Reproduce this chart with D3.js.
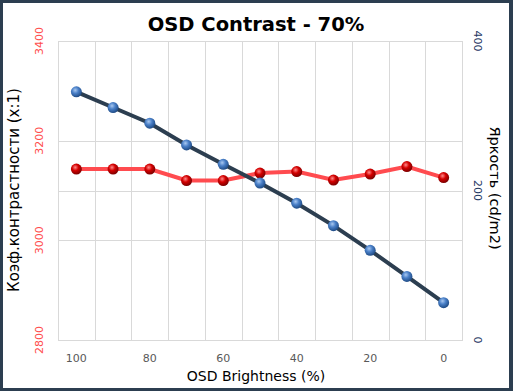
<!DOCTYPE html>
<html>
<head>
<meta charset="utf-8">
<script src="https://cdn.jsdelivr.net/npm/d3@7"></script>
<style>
  body { margin: 0; background: #2c3e50; }
  text { font-family: "DejaVu Sans", Verdana, sans-serif; }
</style>
</head>
<body>
<div id="chart"></div>
<script>
// data
var brightness = [100, 90, 80, 70, 60, 50, 40, 30, 20, 10, 0];
var contrast = [3143, 3143, 3143, 3120, 3120, 3135, 3138, 3121, 3133, 3148, 3126];
var luminance = [332, 311, 290, 261, 235, 210, 183, 153, 120, 85, 50];
var leftTicks = [2800, 3000, 3200, 3400];
var rightTicks = [0, 200, 400];
var xLabels = [100, 80, 60, 40, 20, 0];

var W = 513, H = 391;
var plot = {left: 58, right: 462, top: 41, bottom: 340};

var svg = d3.select("#chart").append("svg")
    .attr("width", W)
    .attr("height", H);

// frame
svg.append("rect").attr("width", W).attr("height", H).attr("fill", "#2c3e50");
svg.append("rect").attr("x", 3).attr("y", 3).attr("width", 506).attr("height", 385).attr("fill", "#fff");

var defs = svg.append("defs");
function ball(id, light, base, dark) {
    var g = defs.append("radialGradient").attr("id", id)
        .attr("cx", "40%").attr("cy", "35%").attr("r", "65%");
    g.append("stop").attr("offset", "0%").attr("stop-color", light);
    g.append("stop").attr("offset", "45%").attr("stop-color", base);
    g.append("stop").attr("offset", "100%").attr("stop-color", dark);
}
ball("redBall", "#ff8a8a", "#d40000", "#7a0000");
ball("blueBall", "#a9c8f0", "#4a80c8", "#1f4b85");

var x = d3.scaleBand().domain(brightness).range([plot.left, plot.right]);
var yL = d3.scaleLinear().domain([2800, 3400]).range([plot.bottom, plot.top]);
var yR = d3.scaleLinear().domain([0, 400]).range([plot.bottom, plot.top]);

// gridlines
var grid = svg.append("g").attr("stroke", "#d9d9d9").attr("stroke-width", 1);
brightness.forEach(function (d) {
    var gx = Math.round(x(d)) + 0.5;
    grid.append("line").attr("x1", gx).attr("x2", gx).attr("y1", plot.top).attr("y2", plot.bottom);
});
leftTicks.forEach(function (d) {
    var gy = Math.round(yL(d)) + 0.5;
    grid.append("line").attr("x1", plot.left).attr("x2", plot.right).attr("y1", gy).attr("y2", gy);
});
rightTicks.forEach(function (d) {
    var gy = Math.round(yR(d)) + 0.5;
    grid.append("line").attr("x1", plot.left).attr("x2", plot.right).attr("y1", gy).attr("y2", gy);
});
svg.append("rect")
    .attr("x", plot.left + 0.5).attr("y", plot.top + 0.5)
    .attr("width", plot.right - plot.left).attr("height", plot.bottom - plot.top)
    .attr("fill", "none").attr("stroke", "#d9d9d9");

// left axis ticks (rotated)
svg.selectAll(".lt")
    .data(leftTicks)
    .enter()
    .append("text")
    .attr("transform", function (d) { return "translate(43," + yL(d) + ") rotate(-90)"; })
    .attr("text-anchor", "middle")
    .attr("font-size", 11)
    .attr("fill", "#ff4d4d")
    .text(function (d) { return d; });

// right axis ticks (rotated)
svg.selectAll(".rt")
    .data(rightTicks)
    .enter()
    .append("text")
    .attr("transform", function (d) { return "translate(474," + yR(d) + ") rotate(90)"; })
    .attr("text-anchor", "middle")
    .attr("font-size", 11)
    .attr("fill", "#1f3864")
    .text(function (d) { return d; });

// x ticks
svg.selectAll(".xt")
    .data(xLabels)
    .enter()
    .append("text")
    .attr("x", function (d) { return x(d) + x.bandwidth() / 2; })
    .attr("y", 362)
    .attr("text-anchor", "middle")
    .attr("font-size", 11)
    .attr("fill", "#595959")
    .text(function (d) { return d; });

// titles
svg.append("text").attr("x", 256).attr("y", 31)
    .attr("text-anchor", "middle").attr("font-size", 19.5).attr("font-weight", "bold")
    .text("OSD Contrast - 70%");
svg.append("text").attr("x", 256).attr("y", 381)
    .attr("text-anchor", "middle").attr("font-size", 14)
    .text("OSD Brightness (%)");
svg.append("text").attr("transform", "translate(19,190) rotate(-90)")
    .attr("text-anchor", "middle").attr("font-size", 15)
    .text("Коэф.контрастности (x:1)");
svg.append("text").attr("transform", "translate(490,188) rotate(90)")
    .attr("text-anchor", "middle").attr("font-size", 14.5)
    .text("Яркость (cd/m2)");

function cx(i) { return x(brightness[i]) + x.bandwidth() / 2; }

// contrast series
svg.append("path")
    .datum(contrast)
    .attr("fill", "none")
    .attr("stroke", "#ff4b4f")
    .attr("stroke-width", 4)
    .attr("d", d3.line().x(function (d, i) { return cx(i); }).y(function (d) { return yL(d); }));
svg.selectAll(".rdot")
    .data(contrast)
    .enter()
    .append("circle")
    .attr("cx", function (d, i) { return cx(i); })
    .attr("cy", function (d) { return yL(d); })
    .attr("r", 5.5)
    .attr("fill", "url(#redBall)");

// luminance series
svg.append("path")
    .datum(luminance)
    .attr("fill", "none")
    .attr("stroke", "#2c3e50")
    .attr("stroke-width", 4)
    .attr("d", d3.line().x(function (d, i) { return cx(i); }).y(function (d) { return yR(d); }));
svg.selectAll(".bdot")
    .data(luminance)
    .enter()
    .append("circle")
    .attr("cx", function (d, i) { return cx(i); })
    .attr("cy", function (d) { return yR(d); })
    .attr("r", 5.5)
    .attr("fill", "url(#blueBall)");
</script>
</body>
</html>
